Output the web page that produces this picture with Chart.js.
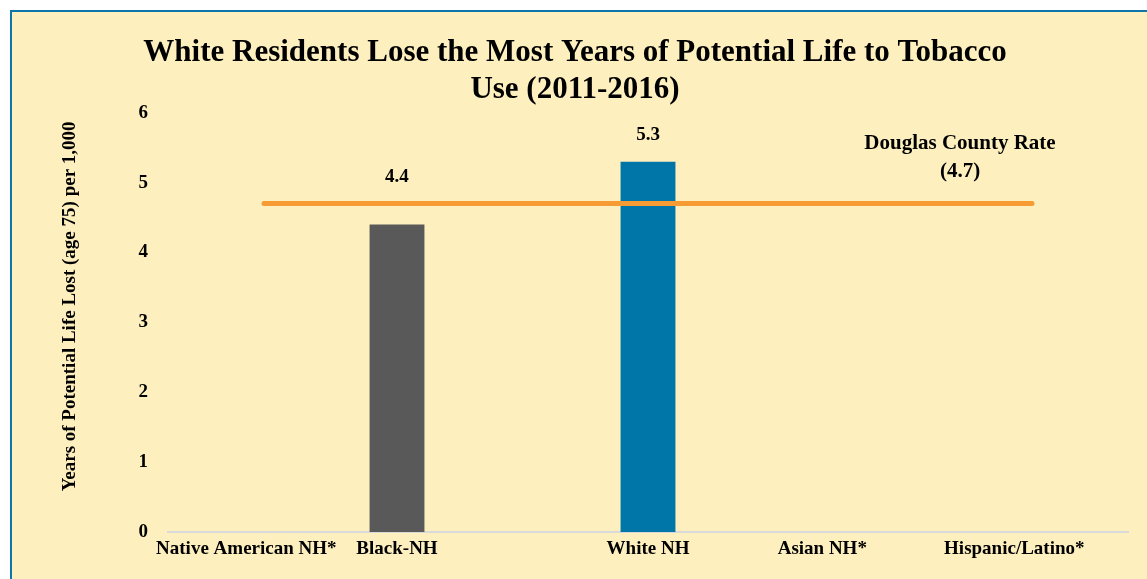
<!DOCTYPE html>
<html>
<head>
<meta charset="utf-8">
<script src="https://cdn.jsdelivr.net/npm/chart.js@4.4.1/dist/chart.umd.min.js"></script>
<style>
  html, body { margin: 0; padding: 0; background: #ffffff; }
  body { width: 1147px; height: 579px; position: relative; overflow: hidden; }
  #frame { position: absolute; left: 10px; top: 10px; width: 1150px; height: 590px;
           background: #FEF0BE; border-top: 2px solid #0E77AA; border-left: 2px solid #0E77AA; }
  #wrap { position: absolute; left: 0; top: 0; width: 1147px; height: 579px; }
</style>
</head>
<body>
<div id="frame"></div>
<div id="wrap"><canvas id="c" width="1147" height="579"></canvas></div>
<script>
const titleLines = ['White Residents Lose the Most Years of Potential Life to Tobacco', 'Use (2011-2016)'];
const yAxisTitle = 'Years of Potential Life Lost (age 75) per 1,000';
const categories = ['Native American NH*', 'Black-NH', 'White NH', 'Asian NH*', 'Hispanic/Latino*'];
const blackNH = [null, 4.4, null, null, null];
const whiteNH = [null, null, 5.3, null, null];
const spacer = [null, null, null, null, null];
const countyRate = [4.7, 4.7, 4.7, 4.7, 4.7];
const countyLabel = ['Douglas County Rate', '(4.7)'];
const yTicks = [0, 1, 2, 3, 4, 5, 6];

const FONT = "'Liberation Serif', 'DejaVu Serif', serif";

const labelPlugin = {
  id: 'customLabels',
  afterDatasetsDraw(chart) {
    const ctx = chart.ctx;
    const xs = chart.scales.x, ys = chart.scales.y;
    const lineY = ys.getPixelForValue(countyRate[0]);
    ctx.save();
    ctx.fillStyle = '#000';
    ctx.textAlign = 'center';
    ctx.textBaseline = 'middle';
    ctx.font = "bold 19px " + FONT;
    let slot = 0;
    const hasBar = categories.map(() => false);
    const xPos = categories.map((c, i) => xs.getPixelForValue(i));
    [0, 1].forEach(di => {
      const meta = chart.getDatasetMeta(di);
      meta.data.forEach((el, i) => {
        const v = chart.data.datasets[di].data[i];
        if (v == null) return;
        xPos[i] = el.x;
        hasBar[i] = true;
        slot = el.width / 0.93;
        const top = Math.min(el.y, lineY);
        ctx.fillText(v.toFixed(1), el.x, top - 27);
      });
    });
    // category labels
    ctx.font = "bold 19px " + FONT;
    categories.forEach((c, i) => {
      const x = hasBar[i] ? xPos[i] : xPos[i] - 0.3 * slot;
      ctx.fillText(c, x, xs.top + 17);
    });
    // county label
    const lineMeta = chart.getDatasetMeta(3);
    const last = lineMeta.data[lineMeta.data.length - 1];
    ctx.font = "bold 21px " + FONT;
    ctx.fillText(countyLabel[0], last.x - 72, lineY - 60);
    ctx.fillText(countyLabel[1], last.x - 72, lineY - 32);
    // y axis title
    ctx.translate(70, (chart.chartArea.top + chart.chartArea.bottom) / 2 - 16);
    ctx.rotate(-Math.PI / 2);
    ctx.font = "bold 19px " + FONT;
    ctx.fillText(yAxisTitle, 0, 0);
    ctx.restore();
  }
};

new Chart(document.getElementById('c'), {
  type: 'bar',
  data: {
    labels: categories,
    datasets: [
      { data: blackNH, backgroundColor: '#595959', categoryPercentage: 0.922, barPercentage: 0.93, order: 2 },
      { data: whiteNH, backgroundColor: '#0075A8', categoryPercentage: 0.922, barPercentage: 0.93, order: 2 },
      { data: spacer, backgroundColor: 'rgba(0,0,0,0)', categoryPercentage: 0.922, barPercentage: 0.93, order: 2 },
      { type: 'line', data: countyRate, borderColor: '#F79B34', borderWidth: 5, pointRadius: 0,
        borderCapStyle: 'round', fill: false, order: 1 }
    ]
  },
  options: {
    responsive: false,
    animation: false,
    devicePixelRatio: 1,
    layout: { padding: { top: 35, right: 19, bottom: 0, left: 22 } },
    plugins: {
      legend: { display: false },
      tooltip: { enabled: false },
      title: {
        display: true,
        text: titleLines,
        color: '#000',
        font: { family: FONT, size: 31, weight: 'bold', lineHeight: 1.19 },
        padding: { top: 0, bottom: 4 }
      }
    },
    scales: {
      x: {
        grid: { display: false, drawTicks: false },
        border: { display: true, color: '#D9D9D9', width: 2 },
        ticks: { display: false },
        afterFit(scale) { scale.height = 47; }
      },
      y: {
        min: 0, max: 6,
        afterBuildTicks(scale) { scale.ticks = yTicks.map(v => ({ value: v })); },
        grid: { display: false, drawTicks: false },
        border: { display: false },
        ticks: { color: '#000', padding: 20, font: { family: FONT, size: 19, weight: 'bold' } },
        title: { display: false },
        afterFit(scale) { scale.width = 146; }
      }
    }
  },
  plugins: [labelPlugin]
});
</script>
</body>
</html>
